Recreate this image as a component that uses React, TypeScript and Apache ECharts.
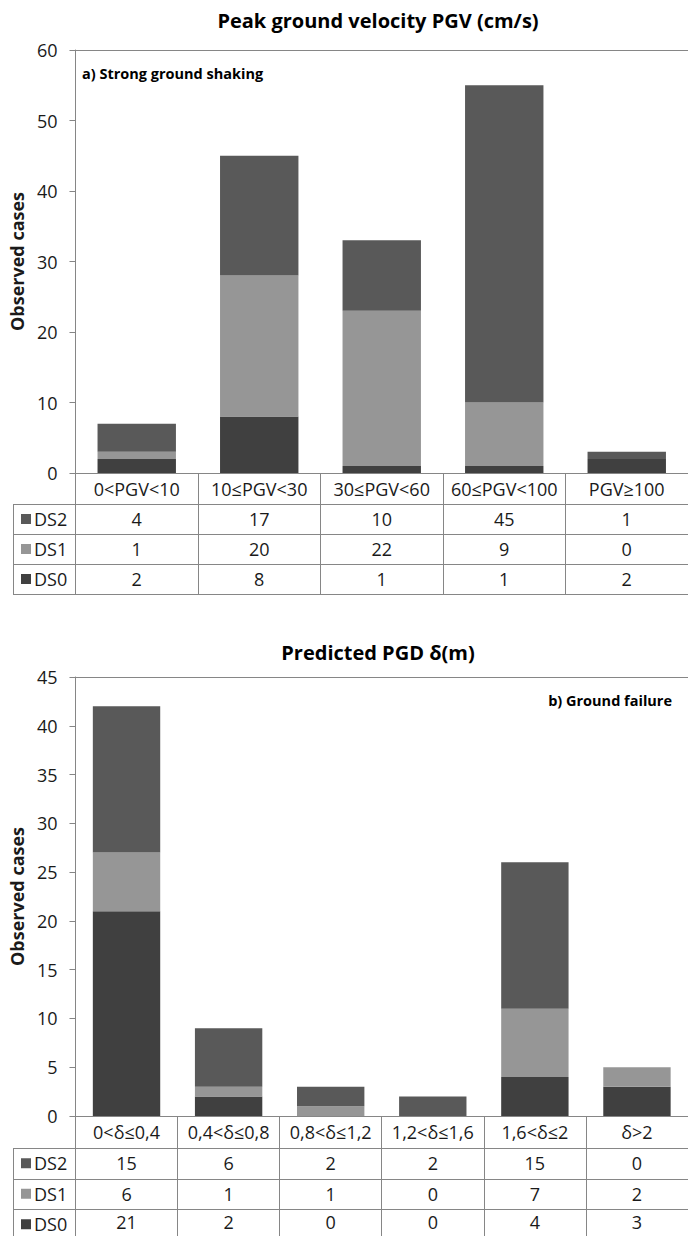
import React, { useEffect, useRef } from "react";
import * as echarts from "echarts";

// ---- data ----
const pgvCategories = ["0<PGV<10", "10≤PGV<30", "30≤PGV<60", "60≤PGV<100", "PGV≥100"];
const pgvDS2 = [4, 17, 10, 45, 1];
const pgvDS1 = [1, 20, 22, 9, 0];
const pgvDS0 = [2, 8, 1, 1, 2];

const pgdCategories = ["0<δ≤0,4", "0,4<δ≤0,8", "0,8<δ≤1,2", "1,2<δ≤1,6", "1,6<δ≤2", "δ>2"];
const pgdDS2 = [15, 6, 2, 2, 15, 0];
const pgdDS1 = [6, 1, 1, 0, 7, 2];
const pgdDS0 = [21, 2, 0, 0, 4, 3];

const seriesNames = ["DS2", "DS1", "DS0"];
const pgvYTicks = { min: 0, max: 60, interval: 10 };
const pgdYTicks = { min: 0, max: 45, interval: 5 };

const titleA = "Peak ground velocity PGV (cm/s)";
const titleB = "Predicted PGD δ(m)";
const panelA = "a) Strong ground shaking";
const panelB = "b) Ground failure";
const yName = "Observed cases";

// ---- styles / layout ----
const FONT = "'Open Sans', 'DejaVu Sans', sans-serif";
const C_DS2 = "#595959";
const C_DS1 = "#969696";
const C_DS0 = "#404040";
const AXIS = "#868686";
const TXT = "#1a1a1a";
const W = 688;
const H = 1236;
const LEFT = 72;
const TABLE_LEFT = 13;

type G = { top: number; bottom: number; catRow: number; row: number; lastRow: number; rows: number };
const g1: G = { top: 50, bottom: 473, catRow: 31, row: 30, lastRow: 30, rows: 3 };
const g2: G = { top: 677, bottom: 1116, catRow: 32, row: 30.5, lastRow: 26, rows: 3 };

function tableLines(g: G, bottomLine: boolean) {
  const els: any[] = [];
  const y0 = g.bottom + g.catRow;
  const n = bottomLine ? 3 : 2;
  for (let i = 0; i <= n; i++) {
    const y = Math.round(y0 + i * g.row) + 0.5;
    els.push({
      type: "line",
      shape: { x1: TABLE_LEFT, y1: y, x2: W, y2: y },
      style: { stroke: AXIS, lineWidth: 1 },
      silent: true,
    });
  }
  els.push({
    type: "line",
    shape: { x1: TABLE_LEFT + 0.5, y1: y0, x2: TABLE_LEFT + 0.5, y2: bottomLine ? y0 + 3 * g.row : H },
    style: { stroke: AXIS, lineWidth: 1 },
    silent: true,
  });
  return els;
}

function xAxes(cats: string[], d2: number[], d1: number[], d0: number[], gridIndex: number, g: G, tick: number) {
  return [
    {
      type: "category",
      gridIndex,
      data: cats,
      position: "bottom",
      axisLine: { show: true, lineStyle: { color: AXIS, width: 1 } },
      axisTick: {
        show: true,
        interval: 0,
        alignWithLabel: false,
        length: tick,
        lineStyle: { color: AXIS, width: 1 },
      },
      axisLabel: {
        interval: 0,
        margin: 0,
        fontFamily: FONT,
        color: TXT,
        formatter: (v: string, i: number) => `{c|${v}}\n{v|${d2[i]}}\n{v|${d1[i]}}\n{w|${d0[i]}}`,
        rich: {
          c: { fontFamily: FONT, fontSize: 18, color: TXT, lineHeight: g.catRow, align: "center" },
          v: { fontFamily: FONT, fontSize: 18, color: TXT, lineHeight: g.row, align: "center" },
          w: { fontFamily: FONT, fontSize: 18, color: TXT, lineHeight: g.lastRow, align: "center" },
        },
      },
      splitLine: { show: false },
    },
    {
      type: "category",
      gridIndex,
      data: cats,
      position: "top",
      axisLine: { show: true, lineStyle: { color: AXIS, width: 1 } },
      axisTick: { show: false },
      axisLabel: { show: false },
      splitLine: { show: false },
    },
  ];
}

function yAxis(gridIndex: number, t: { min: number; max: number; interval: number }) {
  return {
    type: "value",
    gridIndex,
    min: t.min,
    max: t.max,
    interval: t.interval,
    name: yName,
    nameLocation: "middle",
    nameGap: 44,
    nameTextStyle: { fontFamily: FONT, fontSize: 18, fontWeight: "bold", color: TXT },
    axisLine: { show: true, lineStyle: { color: AXIS, width: 1 } },
    axisTick: { show: true, length: 6, lineStyle: { color: AXIS } },
    axisLabel: { fontFamily: FONT, fontSize: 18, color: TXT, margin: 18 },
    splitLine: { show: false },
  };
}

function bars(d2: number[], d1: number[], d0: number[], xIdx: number, yIdx: number, stack: string, gap: string) {
  const base = { type: "bar", stack, xAxisIndex: xIdx, yAxisIndex: yIdx, barCategoryGap: gap };
  return [
    { ...base, name: "DS0", data: d0, itemStyle: { color: C_DS0 } },
    { ...base, name: "DS1", data: d1, itemStyle: { color: C_DS1 } },
    { ...base, name: "DS2", data: d2, itemStyle: { color: C_DS2 } },
  ];
}

function legend(g: G) {
  return {
    data: seriesNames,
    orient: "vertical",
    left: 21,
    top: g.bottom + g.catRow + g.row / 2 - 10,
    itemGap: g.row - 20,
    itemWidth: 10,
    itemHeight: 10,
    icon: "rect",
    selectedMode: false,
    textStyle: { fontFamily: FONT, fontSize: 18, color: TXT, lineHeight: 20, padding: [0, 0, 0, -2] },
    padding: 0,
  };
}

export default function App() {
  const ref = useRef<HTMLDivElement>(null);
  useEffect(() => {
    if (!ref.current) return;
    const chart = echarts.init(ref.current, undefined, { renderer: "svg" });
    chart.setOption({
      animation: false,
      backgroundColor: "#ffffff",
      grid: [
        { left: LEFT, right: 0, top: g1.top, height: g1.bottom - g1.top },
        { left: LEFT, right: 0, top: g2.top, height: g2.bottom - g2.top },
      ],
      xAxis: [
        ...xAxes(pgvCategories, pgvDS2, pgvDS1, pgvDS0, 0, g1, Math.round(g1.catRow + 3 * g1.row)),
        ...xAxes(pgdCategories, pgdDS2, pgdDS1, pgdDS0, 1, g2, H - g2.bottom),
      ],
      yAxis: [yAxis(0, pgvYTicks), yAxis(1, pgdYTicks)],
      legend: [legend(g1), legend(g2)],
      series: [
        ...bars(pgvDS2, pgvDS1, pgvDS0, 0, 0, "a", "36%"),
        ...bars(pgdDS2, pgdDS1, pgdDS0, 2, 1, "b", "34%"),
      ],
      graphic: [
        {
          type: "text",
          x: 378,
          y: 20,
          style: { text: titleA, font: `bold 20px ${FONT}`, fill: "#000", textAlign: "center", textVerticalAlign: "middle" },
        },
        {
          type: "text",
          x: 378,
          y: 652,
          style: { text: titleB, font: `bold 20px ${FONT}`, fill: "#000", textAlign: "center", textVerticalAlign: "middle" },
        },
        {
          type: "text",
          x: 82,
          y: 73,
          style: { text: panelA, font: `bold 14.5px ${FONT}`, fill: "#000", textAlign: "left", textVerticalAlign: "middle" },
        },
        {
          type: "text",
          x: 672,
          y: 700,
          style: { text: panelB, font: `bold 14.5px ${FONT}`, fill: "#000", textAlign: "right", textVerticalAlign: "middle" },
        },
        ...tableLines(g1, true),
        ...tableLines(g2, false),
      ],
    });
    return () => chart.dispose();
  }, []);
  return <div ref={ref} style={{ position: "absolute", left: 0, top: 0, width: W, height: H, background: "#fff" }} />;
}
